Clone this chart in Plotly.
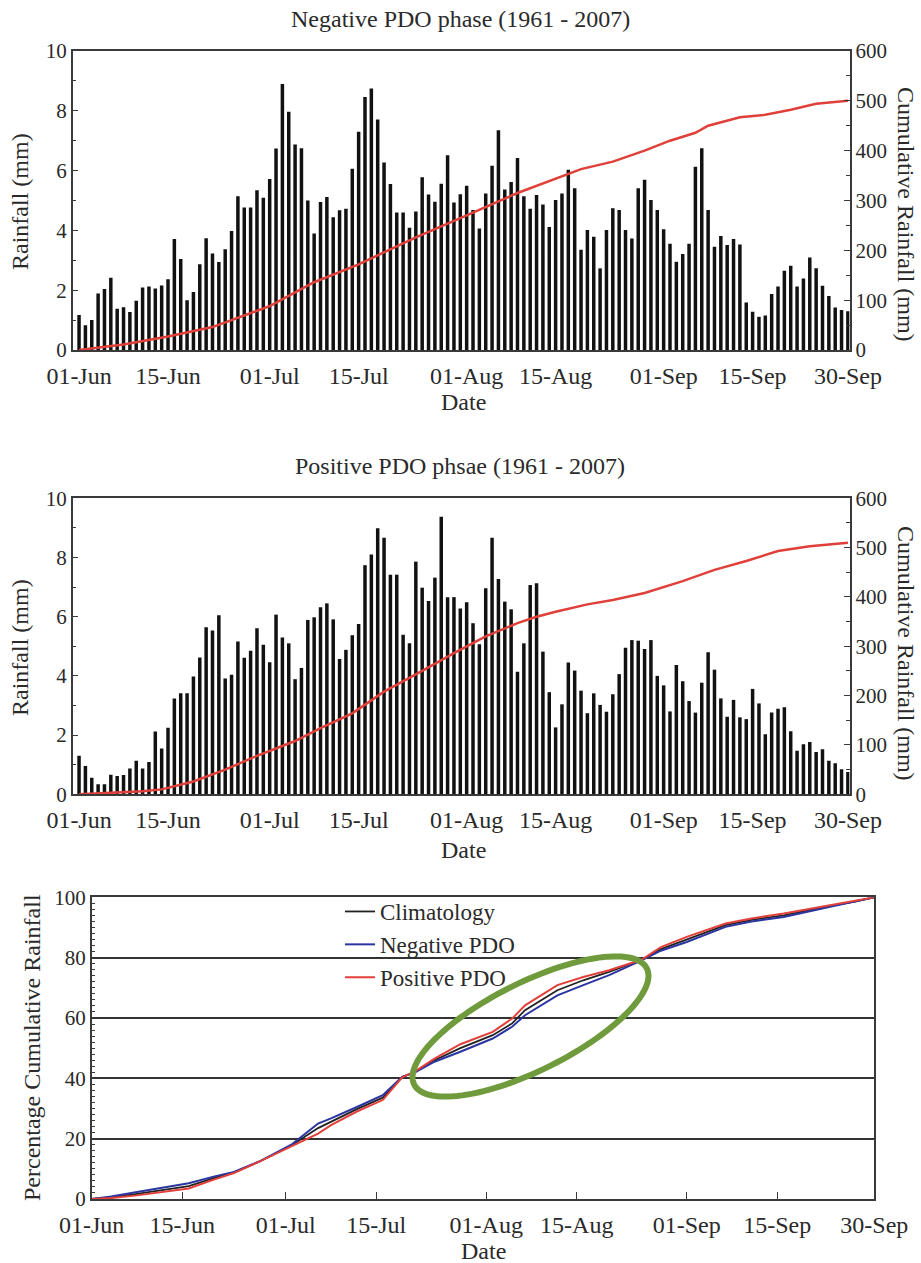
import numpy as np
import pandas as pd
import plotly.graph_objects as go

W, H = 921, 1263
DATES = pd.date_range("2007-06-01", "2007-09-30", freq="D")

# Daily mean rainfall (mm), negative PDO phase
NEG_DAILY = [
    1.17, 0.83, 1.00, 1.89, 2.04, 2.42, 1.38, 1.43, 1.27, 1.65,
    2.09, 2.12, 2.06, 2.16, 2.37, 3.71, 3.04, 1.66, 1.94, 2.87,
    3.74, 3.23, 2.94, 3.37, 3.98, 5.14, 4.77, 4.77, 5.34, 5.09,
    5.72, 6.74, 8.90, 7.97, 6.87, 6.75, 5.00, 3.90, 4.95, 5.12,
    4.44, 4.67, 4.72, 6.06, 7.30, 8.46, 8.75, 7.71, 6.27, 5.55,
    4.60, 4.60, 4.09, 4.63, 5.78, 5.20, 4.96, 5.56, 6.51, 4.93,
    5.21, 5.49, 4.68, 4.06, 5.23, 6.16, 7.35, 5.37, 5.62, 6.42,
    5.14, 4.72, 5.18, 4.87, 4.11, 5.02, 5.23, 6.03, 5.41, 3.35,
    4.01, 3.79, 2.73, 4.01, 4.74, 4.68, 4.01, 3.73, 5.41, 5.69,
    5.02, 4.68, 4.04, 3.55, 2.95, 3.21, 3.55, 6.13, 6.75, 4.68,
    3.45, 3.81, 3.51, 3.71, 3.53, 1.59, 1.28, 1.11, 1.15, 1.87,
    2.12, 2.65, 2.82, 2.12, 2.39, 3.09, 2.73, 2.15, 1.81, 1.42,
    1.34, 1.30,
]

# Daily mean rainfall (mm), positive PDO phase
POS_DAILY = [
    1.30, 0.96, 0.56, 0.34, 0.34, 0.66, 0.62, 0.65, 0.87, 1.13,
    0.87, 1.09, 2.12, 1.55, 2.25, 3.24, 3.41, 3.41, 3.98, 4.62,
    5.64, 5.53, 6.05, 3.91, 4.04, 5.16, 4.61, 4.85, 5.61, 5.05,
    4.46, 6.07, 5.30, 5.10, 3.89, 4.27, 5.89, 5.98, 6.32, 6.45,
    5.91, 4.57, 4.88, 5.37, 5.75, 7.74, 8.10, 8.99, 8.67, 7.42,
    7.42, 5.39, 5.10, 7.86, 6.98, 6.53, 7.32, 9.38, 6.66, 6.66,
    6.28, 6.49, 5.78, 5.07, 6.96, 8.67, 7.27, 6.51, 6.25, 4.14,
    5.10, 7.07, 7.13, 4.82, 3.45, 2.26, 3.04, 4.45, 4.18, 3.50,
    2.74, 3.41, 3.02, 2.79, 3.38, 4.06, 4.95, 5.21, 5.19, 4.91,
    5.21, 4.00, 3.68, 2.80, 4.37, 3.82, 3.15, 2.76, 3.77, 4.80,
    4.21, 3.24, 2.62, 3.19, 2.60, 2.54, 3.56, 3.07, 2.03, 2.76,
    2.89, 2.94, 2.13, 1.47, 1.69, 1.77, 1.43, 1.52, 1.13, 1.05,
    0.85, 0.75,
]

# Cumulative rainfall (mm)
NEG_CUM_DATES = ["2007-06-01", "2007-06-08", "2007-06-15", "2007-06-22", "2007-07-01",
                 "2007-07-08", "2007-07-15", "2007-07-24", "2007-08-01", "2007-08-09",
                 "2007-08-19", "2007-08-24", "2007-08-29", "2007-09-02", "2007-09-06",
                 "2007-09-08", "2007-09-13", "2007-09-17", "2007-09-21", "2007-09-25",
                 "2007-09-30"]
NEG_CUM = [0, 11, 27, 46, 88, 136, 172, 226, 270, 315, 363, 378, 400, 420, 436,
           450, 467, 472, 482, 494, 500]

POS_CUM_DATES = ["2007-06-01", "2007-06-06", "2007-06-11", "2007-06-14", "2007-06-19",
                 "2007-06-24", "2007-06-29", "2007-07-05", "2007-07-09", "2007-07-14",
                 "2007-07-19", "2007-07-25", "2007-07-30", "2007-08-04", "2007-08-09",
                 "2007-08-12", "2007-08-15", "2007-08-20", "2007-08-24", "2007-08-29",
                 "2007-09-04", "2007-09-09", "2007-09-14", "2007-09-19", "2007-09-24",
                 "2007-09-30"]
POS_CUM = [0, 3, 6, 10, 26, 50, 78, 108, 134, 164, 208, 250, 286, 320, 347,
           360, 370, 385, 394, 408, 432, 455, 473, 493, 503, 510]

# Percentage cumulative rainfall
PCT_DATES = ["2007-06-01", "2007-06-04", "2007-06-08", "2007-06-12", "2007-06-16",
             "2007-06-20", "2007-06-23", "2007-06-27", "2007-07-02", "2007-07-06",
             "2007-07-08", "2007-07-12", "2007-07-16", "2007-07-19", "2007-07-21",
             "2007-07-24", "2007-07-28", "2007-08-02", "2007-08-05", "2007-08-07",
             "2007-08-12", "2007-08-16", "2007-08-20", "2007-08-25", "2007-08-28",
             "2007-09-01", "2007-09-07", "2007-09-11", "2007-09-16", "2007-09-23",
             "2007-09-27", "2007-09-30"]
PCT_CLIM = [0, 0.5, 1.7, 3.0, 4.3, 7.0, 8.8, 12.5, 17.9, 23.5, 25.6, 29.8, 33.6,
            40.4, 42.1, 46.0, 50.0, 54.3, 58.2, 62.6, 69.2, 72.5, 75.3, 79.2, 82.8,
            86.0, 90.8, 92.5, 94.0, 97.1, 98.6, 100]
PCT_NEG = [0, 0.8, 2.3, 3.8, 5.2, 7.5, 9.0, 12.5, 18.2, 25.0, 26.7, 30.5, 34.4,
           40.5, 42.0, 45.5, 48.8, 53.2, 57.1, 60.9, 67.5, 70.9, 74.2, 79.1, 82.3,
           85.2, 90.2, 92.0, 93.5, 96.8, 98.5, 100]
PCT_POS = [0, 0.3, 1.2, 2.3, 3.5, 6.5, 8.6, 12.5, 17.6, 21.7, 24.5, 29.0, 32.8,
           40.3, 42.3, 46.5, 51.3, 55.4, 59.8, 64.2, 70.9, 73.6, 75.8, 79.3, 83.5,
           86.9, 91.3, 93.0, 94.6, 97.4, 98.8, 100]

TICK_DATES = ["2007-06-01", "2007-06-15", "2007-07-01", "2007-07-15", "2007-08-01",
              "2007-08-15", "2007-09-01", "2007-09-15", "2007-09-30"]
TICK_TEXT = ["01-Jun", "15-Jun", "01-Jul", "15-Jul", "01-Aug", "15-Aug",
             "01-Sep", "15-Sep", "30-Sep"]

FONT = "Liberation Serif"
TXT = "#2a2a2a"
LINE = "#3a3a3a"
FS = 24
FS_Y = 21


def px(x):
    return x / W


def py(y):
    return 1 - y / H


fig = go.Figure()
DAY_MS = 86400000

# Top panel
fig.add_trace(go.Bar(x=DATES, y=NEG_DAILY, width=0.55 * DAY_MS, marker=dict(color="#111111", line_width=0),
                     xaxis="x", yaxis="y", showlegend=False))
fig.add_trace(go.Scatter(x=NEG_CUM_DATES, y=NEG_CUM, mode="lines", line=dict(color="#e0403a", width=2.5),
                         xaxis="x", yaxis="y2", showlegend=False))
# Middle panel
fig.add_trace(go.Bar(x=DATES, y=POS_DAILY, width=0.55 * DAY_MS, marker=dict(color="#111111", line_width=0),
                     xaxis="x2", yaxis="y3", showlegend=False))
fig.add_trace(go.Scatter(x=POS_CUM_DATES, y=POS_CUM, mode="lines", line=dict(color="#e0403a", width=2.5),
                         xaxis="x2", yaxis="y4", showlegend=False))
# Bottom panel
fig.add_trace(go.Scatter(x=PCT_DATES, y=PCT_CLIM, mode="lines", name="Climatology",
                         line=dict(color="#222222", width=1.8), xaxis="x3", yaxis="y5"))
fig.add_trace(go.Scatter(x=PCT_DATES, y=PCT_NEG, mode="lines", name="Negative PDO",
                         line=dict(color="#2b35a0", width=2), xaxis="x3", yaxis="y5"))
fig.add_trace(go.Scatter(x=PCT_DATES, y=PCT_POS, mode="lines", name="Positive PDO",
                         line=dict(color="#e2403a", width=2), xaxis="x3", yaxis="y5"))

tickfont = dict(family=FONT, size=FS, color=TXT)
ytickfont = dict(family=FONT, size=FS_Y, color=TXT)
bar_xdom = [px(72.7), px(849.5)]
xrange_bar = ["2007-05-31 00:00", "2007-09-30 06:00"]

common_x = dict(type="date", range=xrange_bar, domain=bar_xdom, tickvals=TICK_DATES, ticktext=TICK_TEXT,
                ticks="", showline=True, mirror=True, linecolor=LINE, linewidth=1.5, showgrid=False,
                zeroline=False, tickfont=tickfont, automargin=False, ticklabelstandoff=3)
left_y = dict(range=[0, 10], dtick=2, ticks="inside", ticklen=6, tickcolor=LINE,
              minor=dict(dtick=1, ticks="inside", ticklen=4, tickcolor=LINE),
              showline=True, linecolor=LINE, linewidth=1.5, showgrid=False, zeroline=False,
              tickfont=ytickfont, automargin=False)
right_y = dict(range=[0, 600], dtick=100, side="right", ticks="inside", ticklen=6, tickcolor=LINE,
               minor=dict(dtick=50, ticks="inside", ticklen=4, tickcolor=LINE),
               showline=True, linecolor=LINE, linewidth=1.5, showgrid=False, zeroline=False,
               tickfont=ytickfont, automargin=False)

layout_axes = dict(
    xaxis=dict(common_x, anchor="y"),
    yaxis=dict(left_y, domain=[py(350), py(51)], anchor="x"),
    yaxis2=dict(right_y, overlaying="y", anchor="x"),
    xaxis2=dict(common_x, anchor="y3"),
    yaxis3=dict(left_y, domain=[py(794.3), py(498.3)], anchor="x2"),
    yaxis4=dict(right_y, overlaying="y3", anchor="x2"),
    xaxis3=dict(type="date", range=["2007-06-01", "2007-09-30"], domain=[px(91.7), px(874.3)], anchor="y5",
                tickvals=TICK_DATES, ticktext=TICK_TEXT, ticks="inside", ticklen=7, tickcolor=LINE,
                showline=True, mirror=True, linecolor=LINE, linewidth=1.5, showgrid=False, zeroline=False,
                tickfont=tickfont, automargin=False, ticklabelstandoff=3),
    yaxis5=dict(range=[0, 100], dtick=20, domain=[py(1199), py(897.3)], anchor="x3",
                ticks="", minor=dict(dtick=2, ticks="inside", ticklen=4, tickcolor=LINE),
                showline=True, mirror=True, linecolor=LINE, linewidth=1.5,
                showgrid=True, gridcolor="#333333", gridwidth=1.5, zeroline=False, tickfont=ytickfont,
                automargin=False),
)


def ann(text, x, y, angle=0, size=FS):
    return dict(text=text, x=px(x), y=py(y), xref="paper", yref="paper", showarrow=False,
                textangle=angle, font=dict(family=FONT, size=size, color=TXT),
                xanchor="center", yanchor="middle")


annotations = [
    ann("Negative PDO phase (1961 - 2007)", 460, 19),
    ann("Positive PDO phsae (1961 - 2007)", 460, 466),
    ann("Rainfall (mm)", 20, 202, -90),
    ann("Rainfall (mm)", 20, 648, -90),
    ann("Cumulative Rainfall (mm)", 906, 214, 90),
    ann("Cumulative Rainfall (mm)", 906, 653, 90),
    ann("Date", 463, 402),
    ann("Date", 463, 850),
    ann("Date", 483, 1251),
    ann("Percentage Cumulative Rainfall", 32, 1048, -90),
]

# Highlight ellipse (pixel geometry -> paper coordinates)
cx, cy, a, b, th = 530.5, 1026.5, 130.0, 44.0, np.deg2rad(26.5)
t = np.linspace(0, 2 * np.pi, 121)
ex = cx + a * np.cos(t) * np.cos(th) - b * np.sin(t) * np.sin(th)
ey = cy - (a * np.cos(t) * np.sin(th) + b * np.sin(t) * np.cos(th))
path = "M " + " L ".join(f"{px(x):.5f},{py(y):.5f}" for x, y in zip(ex, ey)) + " Z"
shapes = [dict(type="path", path=path, xref="paper", yref="paper",
               line=dict(color="#6f9b3d", width=6))]

fig.update_layout(
    template="none",
    width=W, height=H, margin=dict(l=0, r=0, t=0, b=0, pad=0, autoexpand=False),
    paper_bgcolor="white", plot_bgcolor="white",
    font=dict(family=FONT, size=FS, color=TXT),
    annotations=annotations, shapes=shapes,
    legend=dict(x=px(340), y=py(890), xanchor="left", yanchor="top", bgcolor="rgba(0,0,0,0)",
                font=dict(family=FONT, size=23, color=TXT), tracegroupgap=0, itemwidth=30),
    **layout_axes,
)

fig.write_html("out.html")
